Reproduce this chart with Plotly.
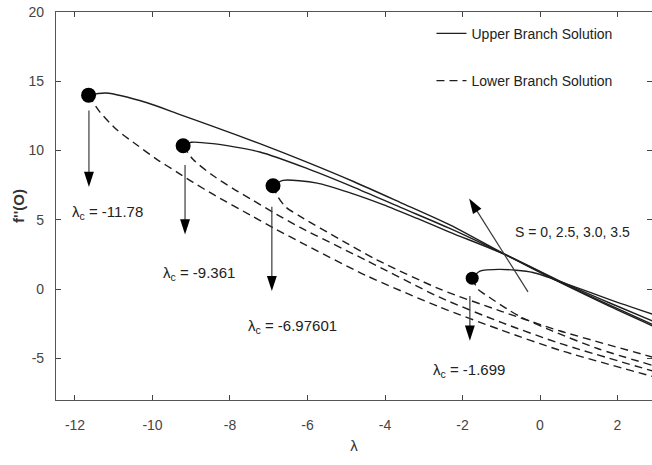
import plotly.graph_objects as go

# ---------------- data ----------------
lam_c_labels = ["-11.78", "-9.361", "-6.97601", "-1.699"]

# turning points (critical points)
crit_x = [-11.65, -9.21, -6.89, -1.75]
crit_y = [14.0, 10.35, 7.46, 0.79]

# upper branch solutions (solid)
up1_x = [-11.65, -11.2, -10.14, -9.29, -8.44, -7.23, -6.0, -4.8, -3.6, -2.3, -0.9, 0.5, 1.8, 2.9]
up1_y = [14.0, 14.15, 13.45, 12.6, 11.75, 10.5, 9.15, 7.75, 6.25, 4.6, 2.5, 0.5, -1.25, -2.65]
up2_x = [-9.21, -9.0, -8.44, -7.23, -6.0, -4.8, -3.6, -2.3, -0.9, 0.5, 1.8, 2.9]
up2_y = [10.35, 10.6, 10.5, 9.9, 8.7, 7.35, 5.9, 4.35, 2.5, 0.55, -1.15, -2.55]
up3_x = [-6.89, -6.63, -5.75, -4.9, -4.05, -3.17, -2.32, -0.9, 0.5, 1.8, 2.9]
up3_y = [7.46, 7.85, 7.65, 6.95, 6.1, 5.1, 4.1, 2.5, 0.6, -1.0, -2.3]
up4_x = [-1.75, -1.55, -1.03, -0.18, 0.7, 1.8, 2.9]
up4_y = [0.79, 1.3, 1.43, 1.2, 0.36, -0.75, -1.8]

# lower branch solutions (dashed)
lo1_x = [-11.65, -11.35, -10.92, -10.4, -9.88, -9.37, -8.95, -8.44, -7.48, -6.8, -6.19, -4.5, -2.58, -1.0, 0.5, 2.9]
lo1_y = [14.0, 12.76, 11.5, 10.4, 9.35, 8.45, 7.7, 6.85, 5.35, 4.3, 3.4, 1.0, -1.3, -2.95, -4.4, -6.3]
lo2_x = [-9.21, -8.95, -8.44, -7.92, -7.4, -6.8, -6.19, -4.5, -2.58, -1.0, 0.5, 2.9]
lo2_y = [10.35, 9.35, 8.2, 7.25, 6.4, 5.4, 4.45, 2.1, -0.6, -2.4, -3.9, -5.9]
lo3_x = [-6.89, -6.75, -6.55, -6.19, -5.2, -4.2, -2.58, -1.0, 0.5, 2.9]
lo3_y = [7.46, 6.6, 5.9, 5.25, 3.65, 2.1, 0.0, -1.6, -3.0, -4.9]
lo4_x = [-1.75, -1.6, -1.3, -0.85, -0.5, 0.3, 1.5, 2.9]
lo4_y = [0.79, 0.0, -0.6, -1.43, -2.0, -3.0, -4.3, -5.5]

# annotation anchors (data coords)
arrow_x = [-11.64, -9.16, -6.92, -1.81]
arrow_tail_y = [12.9, 8.96, 5.95, -0.5]
arrow_tip_y = [6.8, 3.37, -0.72, -4.3]
label_x = [-11.15, -8.8, -6.4, -1.83]
label_y = [5.5, 1.15, -2.7, -5.9]

s_text = "S = 0, 2.5, 3.0, 3.5"
s_text_pos = (0.85, 4.16)
s_arrow_x = [-0.31, -1.94]
s_arrow_y = [-0.2, 7.03]

x_ticks = [-12, -10, -8, -6, -4, -2, 0, 2]
x_tick_text = ["-12", "-10", "-8", "-6", "-4", "-2", "0", "2"]
y_ticks = [-5, 0, 5, 10, 15, 20]
y_tick_text = ["-5", "0", "5", "10", "15", "20"]

# ---------------- figure ----------------
FONT = "Liberation Sans, Arial"
LINE_C = "#1e1e1e"
fig = go.Figure()

uppers = [(up1_x, up1_y), (up2_x, up2_y), (up3_x, up3_y), (up4_x, up4_y)]
lowers = [(lo1_x, lo1_y), (lo2_x, lo2_y), (lo3_x, lo3_y), (lo4_x, lo4_y)]

for i, (xs, ys) in enumerate(uppers):
    fig.add_trace(go.Scatter(
        x=xs, y=ys, mode="lines",
        line=dict(color=LINE_C, width=1.4, shape="spline", smoothing=0.7),
        name="Upper Branch Solution", legendgroup="up",
        showlegend=(i == 0), hoverinfo="skip"))
for i, (xs, ys) in enumerate(lowers):
    fig.add_trace(go.Scatter(
        x=xs, y=ys, mode="lines",
        line=dict(color=LINE_C, width=1.4, dash="8px,5px", shape="spline", smoothing=0.7),
        name="Lower Branch Solution", legendgroup="lo",
        showlegend=(i == 0), hoverinfo="skip"))

fig.add_trace(go.Scatter(
    x=crit_x, y=crit_y, mode="markers",
    marker=dict(color="black", size=[15, 15, 15, 13], opacity=1, line=dict(width=0)),
    showlegend=False, hoverinfo="skip"))

# arrows as line + arrowhead marker
def add_arrow(xs, ys):
    fig.add_trace(go.Scatter(
        x=xs, y=ys, mode="lines+markers",
        line=dict(color="#3a3a3a", width=1.2),
        marker=dict(symbol=["circle", "arrow"], size=[0, 16], color="black", opacity=1,
                    angleref="previous", standoff=8, line=dict(width=0)),
        showlegend=False, hoverinfo="skip"))

for xa, yt, yh in zip(arrow_x, arrow_tail_y, arrow_tip_y):
    add_arrow([xa, xa], [yt, yh])
add_arrow(s_arrow_x, s_arrow_y)

ann = []
for lx, ly, lab in zip(label_x, label_y, lam_c_labels):
    ann.append(dict(x=lx, y=ly, xref="x", yref="y", showarrow=False,
                    text="λ<sub>c</sub> = " + lab,
                    font=dict(family=FONT, size=15, color="#222222")))
ann.append(dict(x=s_text_pos[0], y=s_text_pos[1], xref="x", yref="y", showarrow=False,
                text=s_text, font=dict(family=FONT, size=14, color="#222222")))

fig.update_layout(
    width=652, height=465,
    margin=dict(l=56, r=0, t=12, b=65),
    paper_bgcolor="white", plot_bgcolor="white",
    annotations=ann,
    legend=dict(x=0.63, y=0.985, xanchor="left", yanchor="top",
                bgcolor="rgba(0,0,0,0)", traceorder="grouped", tracegroupgap=26,
                font=dict(family=FONT, size=14, color="#222222")),
    xaxis=dict(range=[-12.49, 2.89], tickvals=x_ticks, ticktext=x_tick_text,
               ticks="inside", ticklen=5,
               showline=True, linecolor="#555555", linewidth=1.2, mirror="ticks",
               showgrid=False, zeroline=False, ticklabelstandoff=12,
               tickfont=dict(family=FONT, size=14, color="#444444"),
               title=dict(text="λ", font=dict(family=FONT, size=15, color="#333333"), standoff=8)),
    yaxis=dict(range=[-8, 20], tickvals=y_ticks, ticktext=y_tick_text,
               ticks="inside", ticklen=5,
               showline=True, linecolor="#555555", linewidth=1.2, mirror="ticks",
               showgrid=False, zeroline=False, ticklabelstandoff=8,
               tickfont=dict(family=FONT, size=14, color="#444444"),
               title=dict(text="<b>f''(O)</b>", font=dict(family=FONT, size=15, color="#333333"), standoff=0)),
)

fig.write_html("out.html")
